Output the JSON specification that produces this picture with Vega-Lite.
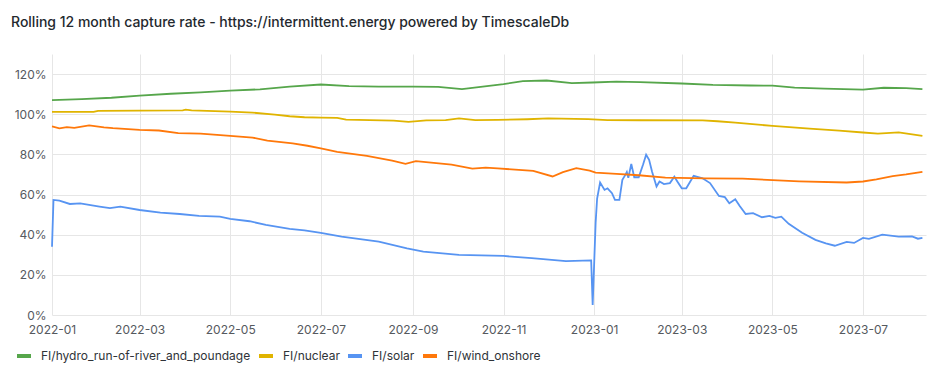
{
  "$schema": "https://vega.github.io/schema/vega-lite/v6.json",
  "width": 874,
  "height": 261,
  "autosize": {"type": "none"},
  "padding": {"left": 52, "top": 54, "right": 23, "bottom": 58},
  "background": "#ffffff",
  "title": {
    "text": "Rolling 12 month capture rate - https://intermittent.energy powered by TimescaleDb",
    "anchor": "start",
    "frame": "group",
    "dx": -41,
    "offset": 13,
    "baseline": "alphabetic",
    "font": "Inter",
    "fontSize": 14,
    "fontWeight": 500,
    "color": "#24292e"
  },
  "data": {
    "values": [
      {"series": "FI/hydro_run-of-river_and_poundage", "date": "2022-01-01T00:00", "value": 1.070},
      {"series": "FI/hydro_run-of-river_and_poundage", "date": "2022-01-21T00:00", "value": 1.075},
      {"series": "FI/hydro_run-of-river_and_poundage", "date": "2022-02-10T00:00", "value": 1.082},
      {"series": "FI/hydro_run-of-river_and_poundage", "date": "2022-03-01T00:00", "value": 1.093},
      {"series": "FI/hydro_run-of-river_and_poundage", "date": "2022-03-22T00:00", "value": 1.102},
      {"series": "FI/hydro_run-of-river_and_poundage", "date": "2022-04-11T00:00", "value": 1.109},
      {"series": "FI/hydro_run-of-river_and_poundage", "date": "2022-05-01T00:00", "value": 1.118},
      {"series": "FI/hydro_run-of-river_and_poundage", "date": "2022-05-21T00:00", "value": 1.124},
      {"series": "FI/hydro_run-of-river_and_poundage", "date": "2022-06-10T00:00", "value": 1.137},
      {"series": "FI/hydro_run-of-river_and_poundage", "date": "2022-07-01T00:00", "value": 1.148},
      {"series": "FI/hydro_run-of-river_and_poundage", "date": "2022-07-20T00:00", "value": 1.140},
      {"series": "FI/hydro_run-of-river_and_poundage", "date": "2022-08-09T00:00", "value": 1.138},
      {"series": "FI/hydro_run-of-river_and_poundage", "date": "2022-09-01T00:00", "value": 1.138},
      {"series": "FI/hydro_run-of-river_and_poundage", "date": "2022-09-18T00:00", "value": 1.136},
      {"series": "FI/hydro_run-of-river_and_poundage", "date": "2022-10-04T00:00", "value": 1.125},
      {"series": "FI/hydro_run-of-river_and_poundage", "date": "2022-10-18T00:00", "value": 1.137},
      {"series": "FI/hydro_run-of-river_and_poundage", "date": "2022-11-01T00:00", "value": 1.150},
      {"series": "FI/hydro_run-of-river_and_poundage", "date": "2022-11-14T00:00", "value": 1.165},
      {"series": "FI/hydro_run-of-river_and_poundage", "date": "2022-11-30T00:00", "value": 1.168},
      {"series": "FI/hydro_run-of-river_and_poundage", "date": "2022-12-17T00:00", "value": 1.155},
      {"series": "FI/hydro_run-of-river_and_poundage", "date": "2022-12-31T00:00", "value": 1.158},
      {"series": "FI/hydro_run-of-river_and_poundage", "date": "2023-01-16T00:00", "value": 1.162},
      {"series": "FI/hydro_run-of-river_and_poundage", "date": "2023-02-01T00:00", "value": 1.160},
      {"series": "FI/hydro_run-of-river_and_poundage", "date": "2023-03-01T00:00", "value": 1.153},
      {"series": "FI/hydro_run-of-river_and_poundage", "date": "2023-03-22T00:00", "value": 1.146},
      {"series": "FI/hydro_run-of-river_and_poundage", "date": "2023-04-16T00:00", "value": 1.143},
      {"series": "FI/hydro_run-of-river_and_poundage", "date": "2023-05-01T00:00", "value": 1.142},
      {"series": "FI/hydro_run-of-river_and_poundage", "date": "2023-05-16T00:00", "value": 1.133},
      {"series": "FI/hydro_run-of-river_and_poundage", "date": "2023-06-05T00:00", "value": 1.128},
      {"series": "FI/hydro_run-of-river_and_poundage", "date": "2023-07-01T00:00", "value": 1.123},
      {"series": "FI/hydro_run-of-river_and_poundage", "date": "2023-07-15T00:00", "value": 1.132},
      {"series": "FI/hydro_run-of-river_and_poundage", "date": "2023-07-30T00:00", "value": 1.130},
      {"series": "FI/hydro_run-of-river_and_poundage", "date": "2023-08-10T00:00", "value": 1.125},

      {"series": "FI/nuclear", "date": "2022-01-01T00:00", "value": 1.012},
      {"series": "FI/nuclear", "date": "2022-01-29T00:00", "value": 1.012},
      {"series": "FI/nuclear", "date": "2022-02-01T00:00", "value": 1.017},
      {"series": "FI/nuclear", "date": "2022-03-01T00:00", "value": 1.018},
      {"series": "FI/nuclear", "date": "2022-03-30T00:00", "value": 1.019},
      {"series": "FI/nuclear", "date": "2022-04-01T00:00", "value": 1.023},
      {"series": "FI/nuclear", "date": "2022-04-05T00:00", "value": 1.019},
      {"series": "FI/nuclear", "date": "2022-05-01T00:00", "value": 1.013},
      {"series": "FI/nuclear", "date": "2022-05-16T00:00", "value": 1.008},
      {"series": "FI/nuclear", "date": "2022-05-31T00:00", "value": 0.998},
      {"series": "FI/nuclear", "date": "2022-06-10T00:00", "value": 0.990},
      {"series": "FI/nuclear", "date": "2022-06-20T00:00", "value": 0.985},
      {"series": "FI/nuclear", "date": "2022-07-01T00:00", "value": 0.983},
      {"series": "FI/nuclear", "date": "2022-07-12T00:00", "value": 0.982},
      {"series": "FI/nuclear", "date": "2022-07-18T00:00", "value": 0.973},
      {"series": "FI/nuclear", "date": "2022-08-19T00:00", "value": 0.968},
      {"series": "FI/nuclear", "date": "2022-08-29T00:00", "value": 0.962},
      {"series": "FI/nuclear", "date": "2022-09-10T00:00", "value": 0.969},
      {"series": "FI/nuclear", "date": "2022-09-23T00:00", "value": 0.971},
      {"series": "FI/nuclear", "date": "2022-10-02T00:00", "value": 0.979},
      {"series": "FI/nuclear", "date": "2022-10-13T00:00", "value": 0.971},
      {"series": "FI/nuclear", "date": "2022-10-28T00:00", "value": 0.972},
      {"series": "FI/nuclear", "date": "2022-11-17T00:00", "value": 0.975},
      {"series": "FI/nuclear", "date": "2022-12-01T00:00", "value": 0.979},
      {"series": "FI/nuclear", "date": "2022-12-28T00:00", "value": 0.976},
      {"series": "FI/nuclear", "date": "2023-01-10T00:00", "value": 0.971},
      {"series": "FI/nuclear", "date": "2023-02-01T00:00", "value": 0.970},
      {"series": "FI/nuclear", "date": "2023-03-15T00:00", "value": 0.969},
      {"series": "FI/nuclear", "date": "2023-03-25T00:00", "value": 0.965},
      {"series": "FI/nuclear", "date": "2023-04-06T00:00", "value": 0.958},
      {"series": "FI/nuclear", "date": "2023-05-01T00:00", "value": 0.942},
      {"series": "FI/nuclear", "date": "2023-05-26T00:00", "value": 0.928},
      {"series": "FI/nuclear", "date": "2023-06-15T00:00", "value": 0.918},
      {"series": "FI/nuclear", "date": "2023-07-01T00:00", "value": 0.909},
      {"series": "FI/nuclear", "date": "2023-07-11T00:00", "value": 0.903},
      {"series": "FI/nuclear", "date": "2023-07-25T00:00", "value": 0.910},
      {"series": "FI/nuclear", "date": "2023-08-10T00:00", "value": 0.892},

      {"series": "FI/solar", "date": "2022-01-01T00:00", "value": 0.34},
      {"series": "FI/solar", "date": "2022-01-02T00:00", "value": 0.573},
      {"series": "FI/solar", "date": "2022-01-06T00:00", "value": 0.570},
      {"series": "FI/solar", "date": "2022-01-13T00:00", "value": 0.553},
      {"series": "FI/solar", "date": "2022-01-20T00:00", "value": 0.556},
      {"series": "FI/solar", "date": "2022-02-02T00:00", "value": 0.540},
      {"series": "FI/solar", "date": "2022-02-09T00:00", "value": 0.532},
      {"series": "FI/solar", "date": "2022-02-16T00:00", "value": 0.540},
      {"series": "FI/solar", "date": "2022-03-01T00:00", "value": 0.523},
      {"series": "FI/solar", "date": "2022-03-15T00:00", "value": 0.510},
      {"series": "FI/solar", "date": "2022-03-28T00:00", "value": 0.503},
      {"series": "FI/solar", "date": "2022-04-10T00:00", "value": 0.494},
      {"series": "FI/solar", "date": "2022-04-24T00:00", "value": 0.490},
      {"series": "FI/solar", "date": "2022-05-01T00:00", "value": 0.479},
      {"series": "FI/solar", "date": "2022-05-14T00:00", "value": 0.467},
      {"series": "FI/solar", "date": "2022-05-25T00:00", "value": 0.449},
      {"series": "FI/solar", "date": "2022-06-10T00:00", "value": 0.429},
      {"series": "FI/solar", "date": "2022-06-20T00:00", "value": 0.422},
      {"series": "FI/solar", "date": "2022-07-01T00:00", "value": 0.409},
      {"series": "FI/solar", "date": "2022-07-15T00:00", "value": 0.390},
      {"series": "FI/solar", "date": "2022-08-09T00:00", "value": 0.365},
      {"series": "FI/solar", "date": "2022-08-28T00:00", "value": 0.332},
      {"series": "FI/solar", "date": "2022-09-08T00:00", "value": 0.316},
      {"series": "FI/solar", "date": "2022-10-02T00:00", "value": 0.299},
      {"series": "FI/solar", "date": "2022-11-01T00:00", "value": 0.294},
      {"series": "FI/solar", "date": "2022-11-20T00:00", "value": 0.283},
      {"series": "FI/solar", "date": "2022-12-13T00:00", "value": 0.268},
      {"series": "FI/solar", "date": "2022-12-30T00:00", "value": 0.272},
      {"series": "FI/solar", "date": "2022-12-31T00:00", "value": 0.050},
      {"series": "FI/solar", "date": "2023-01-02T00:00", "value": 0.46},
      {"series": "FI/solar", "date": "2023-01-03T00:00", "value": 0.58},
      {"series": "FI/solar", "date": "2023-01-05T00:00", "value": 0.660},
      {"series": "FI/solar", "date": "2023-01-08T00:00", "value": 0.623},
      {"series": "FI/solar", "date": "2023-01-10T00:00", "value": 0.631},
      {"series": "FI/solar", "date": "2023-01-13T00:00", "value": 0.607},
      {"series": "FI/solar", "date": "2023-01-15T00:00", "value": 0.573},
      {"series": "FI/solar", "date": "2023-01-18T00:00", "value": 0.573},
      {"series": "FI/solar", "date": "2023-01-20T00:00", "value": 0.673},
      {"series": "FI/solar", "date": "2023-01-22T00:00", "value": 0.698},
      {"series": "FI/solar", "date": "2023-01-23T00:00", "value": 0.712},
      {"series": "FI/solar", "date": "2023-01-24T00:00", "value": 0.683},
      {"series": "FI/solar", "date": "2023-01-26T00:00", "value": 0.753},
      {"series": "FI/solar", "date": "2023-01-28T00:00", "value": 0.686},
      {"series": "FI/solar", "date": "2023-01-31T00:00", "value": 0.686},
      {"series": "FI/solar", "date": "2023-02-03T00:00", "value": 0.751},
      {"series": "FI/solar", "date": "2023-02-05T00:00", "value": 0.798},
      {"series": "FI/solar", "date": "2023-02-07T00:00", "value": 0.773},
      {"series": "FI/solar", "date": "2023-02-09T00:00", "value": 0.714},
      {"series": "FI/solar", "date": "2023-02-12T00:00", "value": 0.640},
      {"series": "FI/solar", "date": "2023-02-14T00:00", "value": 0.665},
      {"series": "FI/solar", "date": "2023-02-17T00:00", "value": 0.652},
      {"series": "FI/solar", "date": "2023-02-21T00:00", "value": 0.657},
      {"series": "FI/solar", "date": "2023-02-24T00:00", "value": 0.689},
      {"series": "FI/solar", "date": "2023-02-26T00:00", "value": 0.665},
      {"series": "FI/solar", "date": "2023-03-01T00:00", "value": 0.631},
      {"series": "FI/solar", "date": "2023-03-04T00:00", "value": 0.631},
      {"series": "FI/solar", "date": "2023-03-09T00:00", "value": 0.693},
      {"series": "FI/solar", "date": "2023-03-15T00:00", "value": 0.681},
      {"series": "FI/solar", "date": "2023-03-20T00:00", "value": 0.657},
      {"series": "FI/solar", "date": "2023-03-26T00:00", "value": 0.593},
      {"series": "FI/solar", "date": "2023-03-30T00:00", "value": 0.587},
      {"series": "FI/solar", "date": "2023-04-02T00:00", "value": 0.557},
      {"series": "FI/solar", "date": "2023-04-06T00:00", "value": 0.577},
      {"series": "FI/solar", "date": "2023-04-09T00:00", "value": 0.543},
      {"series": "FI/solar", "date": "2023-04-13T00:00", "value": 0.503},
      {"series": "FI/solar", "date": "2023-04-18T00:00", "value": 0.507},
      {"series": "FI/solar", "date": "2023-04-24T00:00", "value": 0.487},
      {"series": "FI/solar", "date": "2023-04-29T00:00", "value": 0.494},
      {"series": "FI/solar", "date": "2023-05-03T00:00", "value": 0.484},
      {"series": "FI/solar", "date": "2023-05-07T00:00", "value": 0.490},
      {"series": "FI/solar", "date": "2023-05-12T00:00", "value": 0.454},
      {"series": "FI/solar", "date": "2023-05-21T00:00", "value": 0.410},
      {"series": "FI/solar", "date": "2023-05-30T00:00", "value": 0.374},
      {"series": "FI/solar", "date": "2023-06-06T00:00", "value": 0.357},
      {"series": "FI/solar", "date": "2023-06-12T00:00", "value": 0.345},
      {"series": "FI/solar", "date": "2023-06-20T00:00", "value": 0.364},
      {"series": "FI/solar", "date": "2023-06-25T00:00", "value": 0.359},
      {"series": "FI/solar", "date": "2023-07-01T00:00", "value": 0.384},
      {"series": "FI/solar", "date": "2023-07-05T00:00", "value": 0.379},
      {"series": "FI/solar", "date": "2023-07-14T00:00", "value": 0.400},
      {"series": "FI/solar", "date": "2023-07-25T00:00", "value": 0.390},
      {"series": "FI/solar", "date": "2023-08-03T00:00", "value": 0.392},
      {"series": "FI/solar", "date": "2023-08-07T00:00", "value": 0.380},
      {"series": "FI/solar", "date": "2023-08-10T00:00", "value": 0.384},

      {"series": "FI/wind_onshore", "date": "2022-01-01T00:00", "value": 0.939},
      {"series": "FI/wind_onshore", "date": "2022-01-06T00:00", "value": 0.930},
      {"series": "FI/wind_onshore", "date": "2022-01-11T00:00", "value": 0.936},
      {"series": "FI/wind_onshore", "date": "2022-01-16T00:00", "value": 0.932},
      {"series": "FI/wind_onshore", "date": "2022-01-26T00:00", "value": 0.944},
      {"series": "FI/wind_onshore", "date": "2022-02-05T00:00", "value": 0.935},
      {"series": "FI/wind_onshore", "date": "2022-02-11T00:00", "value": 0.931},
      {"series": "FI/wind_onshore", "date": "2022-03-01T00:00", "value": 0.922},
      {"series": "FI/wind_onshore", "date": "2022-03-14T00:00", "value": 0.919},
      {"series": "FI/wind_onshore", "date": "2022-03-27T00:00", "value": 0.906},
      {"series": "FI/wind_onshore", "date": "2022-04-11T00:00", "value": 0.903},
      {"series": "FI/wind_onshore", "date": "2022-05-01T00:00", "value": 0.892},
      {"series": "FI/wind_onshore", "date": "2022-05-16T00:00", "value": 0.884},
      {"series": "FI/wind_onshore", "date": "2022-05-26T00:00", "value": 0.869},
      {"series": "FI/wind_onshore", "date": "2022-06-12T00:00", "value": 0.855},
      {"series": "FI/wind_onshore", "date": "2022-06-22T00:00", "value": 0.843},
      {"series": "FI/wind_onshore", "date": "2022-07-01T00:00", "value": 0.830},
      {"series": "FI/wind_onshore", "date": "2022-07-12T00:00", "value": 0.813},
      {"series": "FI/wind_onshore", "date": "2022-08-01T00:00", "value": 0.793},
      {"series": "FI/wind_onshore", "date": "2022-08-18T00:00", "value": 0.769},
      {"series": "FI/wind_onshore", "date": "2022-08-27T00:00", "value": 0.753},
      {"series": "FI/wind_onshore", "date": "2022-09-03T00:00", "value": 0.766},
      {"series": "FI/wind_onshore", "date": "2022-09-27T00:00", "value": 0.749},
      {"series": "FI/wind_onshore", "date": "2022-10-11T00:00", "value": 0.729},
      {"series": "FI/wind_onshore", "date": "2022-10-20T00:00", "value": 0.734},
      {"series": "FI/wind_onshore", "date": "2022-10-28T00:00", "value": 0.730},
      {"series": "FI/wind_onshore", "date": "2022-11-21T00:00", "value": 0.718},
      {"series": "FI/wind_onshore", "date": "2022-12-04T00:00", "value": 0.690},
      {"series": "FI/wind_onshore", "date": "2022-12-11T00:00", "value": 0.712},
      {"series": "FI/wind_onshore", "date": "2022-12-20T00:00", "value": 0.731},
      {"series": "FI/wind_onshore", "date": "2022-12-29T00:00", "value": 0.719},
      {"series": "FI/wind_onshore", "date": "2023-01-02T00:00", "value": 0.709},
      {"series": "FI/wind_onshore", "date": "2023-01-16T00:00", "value": 0.703},
      {"series": "FI/wind_onshore", "date": "2023-01-31T00:00", "value": 0.696},
      {"series": "FI/wind_onshore", "date": "2023-02-18T00:00", "value": 0.684},
      {"series": "FI/wind_onshore", "date": "2023-03-17T00:00", "value": 0.681},
      {"series": "FI/wind_onshore", "date": "2023-04-11T00:00", "value": 0.679},
      {"series": "FI/wind_onshore", "date": "2023-05-19T00:00", "value": 0.666},
      {"series": "FI/wind_onshore", "date": "2023-06-20T00:00", "value": 0.660},
      {"series": "FI/wind_onshore", "date": "2023-07-01T00:00", "value": 0.665},
      {"series": "FI/wind_onshore", "date": "2023-07-10T00:00", "value": 0.676},
      {"series": "FI/wind_onshore", "date": "2023-07-21T00:00", "value": 0.692},
      {"series": "FI/wind_onshore", "date": "2023-07-30T00:00", "value": 0.700},
      {"series": "FI/wind_onshore", "date": "2023-08-10T00:00", "value": 0.713}
    ]
  },
  "mark": {"type": "line", "strokeWidth": 1.8, "interpolate": "linear"},
  "encoding": {
    "x": {
      "field": "date",
      "type": "temporal",
      "title": null,
      "scale": {"domain": [{"year": 2022, "month": 1, "date": 1}, {"year": 2023, "month": 8, "date": 12, "hours": 10}], "nice": false},
      "axis": {
        "format": "%Y-%m",
        "values": [
          {"year": 2022, "month": 1, "date": 1},
          {"year": 2022, "month": 3, "date": 1},
          {"year": 2022, "month": 5, "date": 1},
          {"year": 2022, "month": 7, "date": 1},
          {"year": 2022, "month": 9, "date": 1},
          {"year": 2022, "month": 11, "date": 1},
          {"year": 2023, "month": 1, "date": 1},
          {"year": 2023, "month": 3, "date": 1},
          {"year": 2023, "month": 5, "date": 1},
          {"year": 2023, "month": 7, "date": 1}
        ],
        "labelPadding": 9,
        "labelFlush": false,
        "labelOverlap": false
      }
    },
    "y": {
      "field": "value",
      "type": "quantitative",
      "title": null,
      "scale": {"domain": [0, 1.3], "nice": false, "zero": true},
      "axis": {
        "format": ".0%",
        "values": [0, 0.2, 0.4, 0.6, 0.8, 1.0, 1.2],
        "labelPadding": 6
      }
    },
    "color": {
      "field": "series",
      "type": "nominal",
      "scale": {
        "domain": ["FI/hydro_run-of-river_and_poundage", "FI/nuclear", "FI/solar", "FI/wind_onshore"],
        "range": ["#56A64B", "#E0B400", "#5794F2", "#FF780A"]
      },
      "legend": {
        "orient": "none",
        "legendX": -37,
        "legendY": 293,
        "direction": "horizontal",
        "title": null,
        "padding": 0,
        "symbolType": "stroke",
        "symbolSize": 196,
        "symbolStrokeWidth": 4,
        "labelOffset": 8,
        "columnPadding": 0,
        "labelFont": "Inter",
        "labelFontSize": 12,
        "labelColor": "#2f3338",
        "labelLimit": 400
      }
    }
  },
  "config": {
    "font": "Inter",
    "view": {"stroke": null},
    "axis": {
      "grid": true,
      "gridColor": "#e6e6e6",
      "gridWidth": 1,
      "domain": false,
      "ticks": false,
      "labelFont": "Inter",
      "labelFontSize": 12,
      "labelColor": "#55595e"
    }
  }
}
